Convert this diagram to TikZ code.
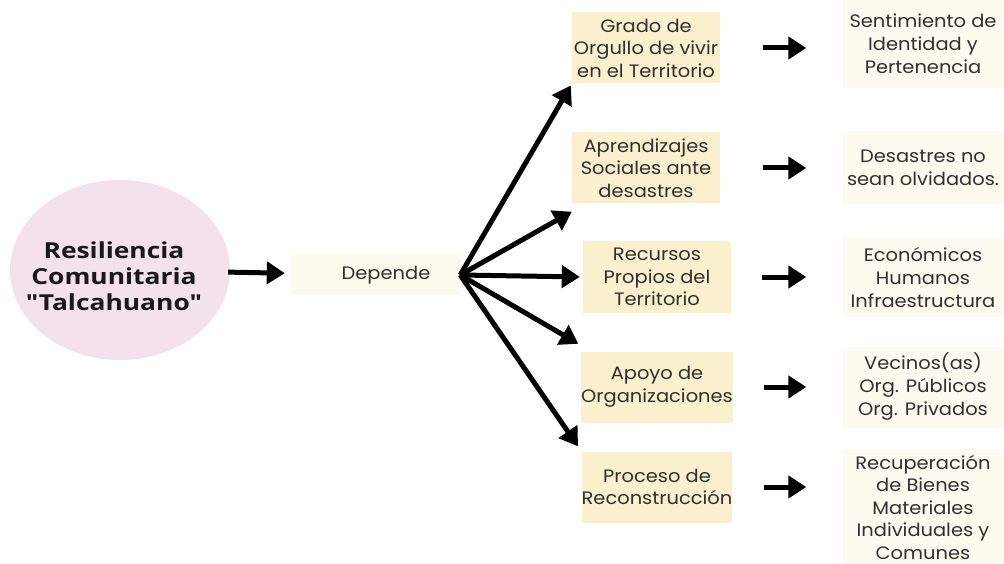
\documentclass[tikz,border=0pt]{standalone}
\usepackage{fontspec}
\setmainfont[FakeStretch=1.08]{Poppins}
\newfontfamily\TitleFont[FakeStretch=1.2]{Open Sans}
\usepackage{tikz}
\usetikzlibrary{arrows.meta}
\usetikzlibrary{shapes.geometric}
\usepackage{xcolor}
\definecolor{ColA}{RGB}{243,226,234}
\definecolor{ColB}{RGB}{250,240,205}
\definecolor{ColC}{RGB}{253,251,239}
\definecolor{ColD}{RGB}{250,250,237}
\definecolor{ColT}{RGB}{48,48,48}
\tikzstyle{NodeCircle}=[ellipse,fill=ColA,minimum width=220pt,minimum height=180pt,inner sep=0pt]
\tikzstyle{TitleText}=[align=center,text=black!90,font=\TitleFont\bfseries\fontsize{22}{26}\selectfont]
\tikzstyle{NodeDep}=[fill=ColD,minimum width=170pt,minimum height=40pt,inner sep=0pt,
text=ColT,font=\fontsize{18}{23}\selectfont]
\tikzstyle{NodeFactor}=[fill=ColB,minimum width=148pt,minimum height=71pt,inner sep=0pt,
align=center,text=ColT,font=\fontsize{18}{22.5}\selectfont]
\tikzstyle{NodeResult}=[fill=ColC,minimum width=161pt,inner sep=0pt,
align=center,text=ColT,font=\fontsize{18}{23}\selectfont]
\tikzstyle{EdgeArrow}=[black,line width=5pt,-{Triangle[length=18pt,width=22pt]}]

\begin{document}
\begin{tikzpicture}[x=1pt,y=-1pt]
        \useasboundingbox(0,0)rectangle(1004,564);
        \node[NodeCircle,label={[TitleText,xshift=-6pt,yshift=-6pt]center:Resiliencia\\Comunitaria\\"Talcahuano"}](res)at(120,270){};
        \node[NodeDep](dep)at(375,275){\hspace*{22pt}Depende};
        \node[NodeFactor](f1)at(646,48){Grado de\\Orgullo de vivir\\en el Territorio};
        \node[NodeFactor](f2)at(646,168){Aprendizajes\\Sociales ante\\desastres};
        \node[NodeFactor](f3)at(657,277){Recursos\\Propios del\\Territorio};
        \node[NodeFactor](f4)at(657,387){Apoyo de\\Organizaciones};
        \node[NodeFactor](f5)at(657,487){Proceso de\\Reconstrucción};
        \node[NodeResult,minimum height=88pt](r1)at(923,44){Sentimiento de\\Identidad y\\Pertenencia};
        \node[NodeResult,minimum height=73pt](r2)at(923,168){Desastres no\\sean olvidados.};
        \node[NodeResult,minimum height=80pt](r3)at(923,277){Económicos\\Humanos\\Infraestructura};
        \node[NodeResult,minimum height=81pt](r4)at(923,387){Vecinos(as)\\Org. Públicos\\Org. Privados};
        \node[NodeResult,minimum height=117pt,font=\fontsize{18}{22.5}\selectfont](r5)at(923,507){Recuperación\\de Bienes\\Materiales\\Individuales y\\Comunes};
        \draw[EdgeArrow,shorten <=-2pt,shorten >=5pt](res)--(dep);
        \draw[EdgeArrow,shorten >=2pt](dep.east)--(f1.south west);
        \draw[EdgeArrow](dep.east)--([yshift=-8pt]f2.south west);
        \draw[EdgeArrow,shorten >=3pt](dep.east)--(f3.west);
        \draw[EdgeArrow,shorten >=3pt](dep.east)--([yshift=6pt]f4.north west);
        \draw[EdgeArrow,shorten >=6pt](dep.east)--(f5.north west);
        \draw[EdgeArrow,shorten <=43pt,shorten >=36pt](f1)--(r1.west|-f1);
        \draw[EdgeArrow,shorten <=43pt,shorten >=36pt](f2)--(r2.west|-f2);
        \draw[EdgeArrow,shorten <=31pt,shorten >=36pt](f3.east)--(r3.west);
        \draw[EdgeArrow,shorten <=31pt,shorten >=36pt](f4.east)--(r4.west|-f4.east);
        \draw[EdgeArrow,shorten <=31pt,shorten >=36pt](f5.east)--(r5.west|-f5.east);
    \end{tikzpicture}
\end{document}
